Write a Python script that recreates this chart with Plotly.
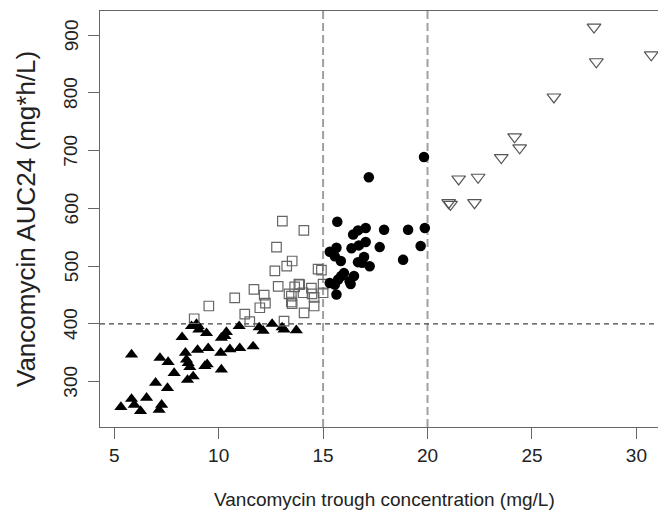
import plotly.graph_objects as go

# Group 1: filled triangles (trough < 15, AUC < 400)
tri_x = [5.32, 5.83, 5.83, 5.96, 6.26, 6.55, 6.98, 7.19, 7.27, 7.15, 7.55, 7.58, 7.87,
         8.25, 8.41, 8.46, 8.54, 8.62, 8.51, 8.78, 8.70, 8.94, 9.05, 8.99, 9.42, 9.50,
         9.34, 9.45, 10.13, 10.10, 10.13, 10.30, 10.37, 10.54, 11.01, 10.98, 11.65,
         11.94, 12.13, 12.56, 13.04, 13.13, 13.72, 9.02]
tri_y = [256, 347, 270, 260, 249, 272, 298, 341, 260, 251, 289, 334, 315,
         377, 350, 338, 332, 325, 303, 309, 396, 400, 390, 355, 384, 358,
         327, 330, 321, 350, 376, 379, 386, 356, 358, 396, 361,
         394, 388, 400, 394, 390, 389, 396]

# Group 2: open squares (trough < 15, AUC >= 400)
sq_x = [13.05, 14.08, 12.77, 13.52, 13.26, 12.69, 14.76, 14.92, 12.85, 13.84, 13.64,
        13.37, 13.48, 14.04, 14.44, 14.47, 15.00, 15.00, 14.57, 14.57, 13.52, 14.09,
        13.13, 11.69, 12.18, 12.24, 11.97, 10.77, 9.53, 11.25, 11.49, 8.83, 13.88, 13.48]
sq_y = [578, 562, 533, 509, 500, 492, 495, 493, 465, 469, 464,
        452, 448, 454, 462, 452, 469, 454, 446, 431, 435, 419,
        405, 460, 450, 436, 428, 445, 431, 417, 404, 409, 468, 438]

# Group 3: filled circles (trough 15-20)
circ_x = [19.83, 17.19, 15.68, 17.04, 16.67, 16.44, 17.92, 19.07, 19.87, 17.04, 16.71,
          16.36, 17.71, 19.67, 15.64, 15.32, 15.56, 15.85, 16.96, 16.67, 16.87, 17.23,
          18.83, 16.00, 15.87, 15.72, 15.32, 15.56, 16.48, 16.27, 16.32, 15.64]
circ_y = [689, 654, 577, 566, 562, 555, 563, 563, 566, 542, 536,
          531, 533, 535, 532, 525, 517, 509, 516, 507, 506, 500,
          511, 488, 483, 477, 471, 468, 483, 474, 469, 451]

# Group 4: open down-triangles (trough > 20)
dtri_x = [27.97, 30.71, 28.08, 26.05, 24.17, 24.41, 23.53, 21.49, 22.42, 21.01, 21.10, 22.25]
dtri_y = [914, 866, 854, 793, 724, 705, 688, 651, 654, 610, 607, 610]

x_ticks = [5, 10, 15, 20, 25, 30]
y_ticks = [300, 400, 500, 600, 700, 800, 900]
y_tick_labels = ["300", "400", "500", "600", "700", "800", "900"]
v_lines = [15, 20]
h_lines = [400]

FONT = "Liberation Sans, Arial, sans-serif"

fig = go.Figure()
fig.add_trace(go.Scatter(x=tri_x, y=tri_y, mode="markers",
                         marker=dict(symbol="triangle-up", size=11.5, color="black",
                                     line=dict(width=0))))
fig.add_trace(go.Scatter(x=sq_x, y=sq_y, mode="markers",
                         marker=dict(symbol="square-open", size=9.5, color="#666666",
                                     line=dict(width=1.2, color="#666666"))))
fig.add_trace(go.Scatter(x=circ_x, y=circ_y, mode="markers",
                         marker=dict(symbol="circle", size=10.5, color="black",
                                     line=dict(width=0))))
fig.add_trace(go.Scatter(x=dtri_x, y=dtri_y, mode="markers",
                         marker=dict(symbol="triangle-down-open", size=12, color="#555555",
                                     line=dict(width=1.2, color="#555555"))))

for v in v_lines:
    fig.add_shape(type="line", xref="x", yref="paper", x0=v, x1=v, y0=0, y1=1,
                  line=dict(color="#a0a0a0", width=2, dash="8px,4px"), layer="below")
for h in h_lines:
    fig.add_shape(type="line", xref="paper", yref="y", x0=0, x1=1, y0=h, y1=h,
                  line=dict(color="#444444", width=1.3, dash="5px,4px"), layer="below")

# y tick labels (rotated, R style) placed on the y axis scale
for v, lab in zip(y_ticks, y_tick_labels):
    fig.add_annotation(text=lab, xref="paper", yref="y", x=0, y=v, xshift=-29,
                       xanchor="center", yanchor="middle", textangle=-90,
                       showarrow=False,
                       font=dict(family=FONT, size=19, color="#222222"))

fig.add_annotation(text="Vancomycin trough concentration (mg/L)", xref="paper", yref="paper",
                   x=0.5, y=0, yshift=-72, xanchor="center", yanchor="middle",
                   showarrow=False,
                   font=dict(family=FONT, size=19, color="#222222"))
fig.add_annotation(text="Vancomycin AUC24 (mg*h/L)", xref="paper", yref="paper",
                   x=0, y=0.5, xshift=-74, xanchor="center", yanchor="middle",
                   textangle=-90, showarrow=False,
                   font=dict(family=FONT, size=26, color="#222222"))

axis_common = dict(showline=True, linecolor="#666666", linewidth=1, mirror=True,
                   ticks="outside", ticklen=11, tickcolor="#666666", tickwidth=1,
                   showgrid=False, zeroline=False, automargin=False,
                   tickfont=dict(family=FONT, size=19, color="#222222"))

fig.update_layout(
    width=666, height=516,
    margin=dict(l=92, r=5, t=3, b=97),
    paper_bgcolor="white", plot_bgcolor="white",
    showlegend=False,
    xaxis=dict(range=[4.32, 31.56], tickvals=x_ticks, **axis_common),
    yaxis=dict(range=[221.5, 941.9], tickvals=y_ticks, showticklabels=False,
               **axis_common),
)

fig.write_html("out.html")
